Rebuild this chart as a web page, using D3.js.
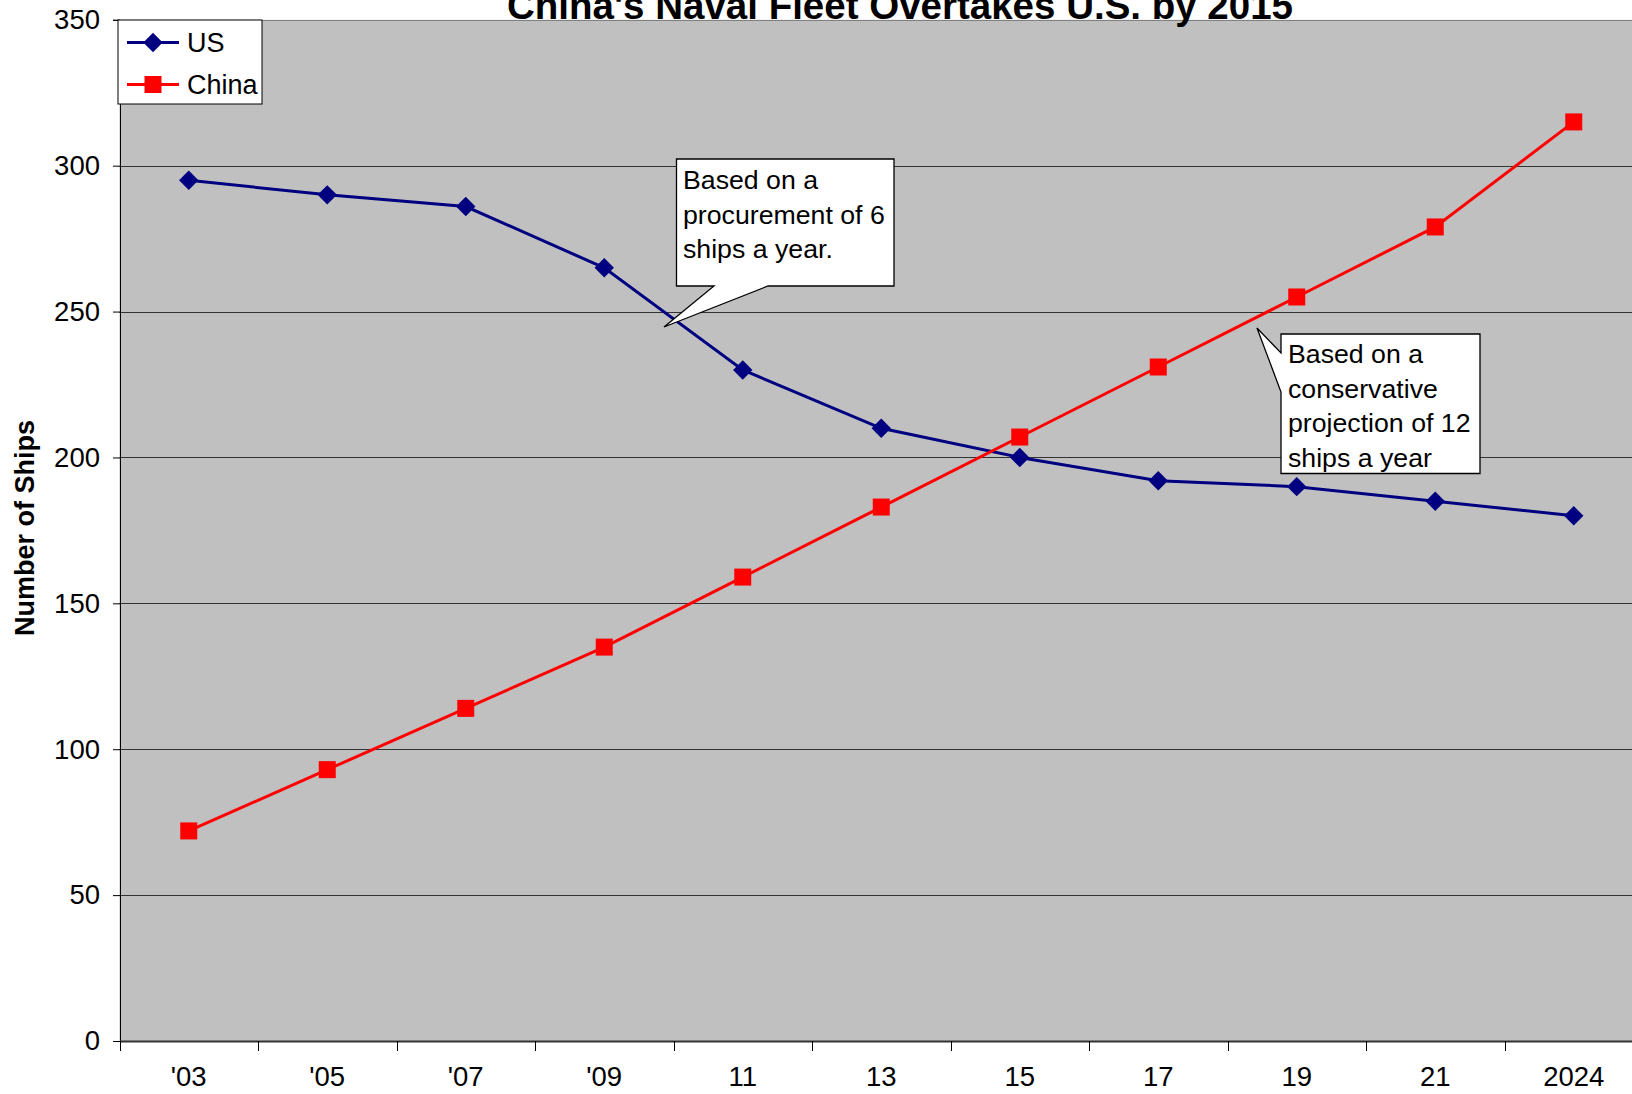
<!DOCTYPE html>
<html><head><meta charset="utf-8">
<script src="https://cdn.jsdelivr.net/npm/d3@7"></script>
<style>
html,body{margin:0;padding:0;background:#fff;overflow:hidden}
text{font-family:"Liberation Sans",Arial,sans-serif}
</style></head>
<body>
<svg id="c" width="1632" height="1094"></svg>
<script>
const categories = ["'03","'05","'07","'09","11","13","15","17","19","21","2024"];
const usValues = [295,290,286,265,230,210,200,192,190,185,180];
const chinaValues = [72,93,114,135,159,183,207,231,255,279,315];
const yTicks = [0,50,100,150,200,250,300,350];
const title = "China's Naval Fleet Overtakes U.S. by 2015";
const yTitle = "Number of Ships";
const callout1 = ["Based on a","procurement of 6","ships a year."];
const callout2 = ["Based on a","conservative","projection of 12","ships a year"];

const svg = d3.select("#c");
const L = 119.5, T = 19.8, B = 1041, R = L + 11*138.5;
const x = d3.scaleBand().domain(categories).range([L, R]);
const y = d3.scaleLinear().domain([0,350]).range([B, T]);

svg.append("rect").attr("x",L).attr("y",T).attr("width",R-L).attr("height",B-T).attr("fill","#c0c0c0");
svg.append("g").selectAll("line").data(yTicks.filter(d=>d>0)).join("line")
  .attr("x1",L).attr("x2",R).attr("y1",d=>Math.round(y(d))+0.5).attr("y2",d=>Math.round(y(d))+0.5)
  .attr("stroke",d=>d===350?"#808080":"#333").attr("stroke-width",1);

const yAxis = d3.axisLeft(y).tickValues(yTicks).tickSize(7).tickPadding(13);
const gy = svg.append("g").attr("transform",`translate(${L+0.5},0)`).call(yAxis);
gy.select(".domain").attr("stroke","#000").attr("stroke-width",1);
gy.selectAll(".tick line").attr("stroke","#000");
gy.selectAll("text").attr("font-size",27.5).attr("fill","#000").style("font-family","'Liberation Sans',Arial,sans-serif");

const xAxis = d3.axisBottom(x).tickSize(0).tickPadding(25);
const gx = svg.append("g").attr("transform",`translate(0,${B})`).call(xAxis);
gx.select(".domain").attr("stroke","#333").attr("stroke-width",2);
gx.selectAll("text").attr("font-size",27.5).attr("fill","#000").style("font-family","'Liberation Sans',Arial,sans-serif");
svg.append("g").selectAll("line").data(categories).join("line")
  .attr("x1",d=>Math.round(x(d))+0.5).attr("x2",d=>Math.round(x(d))+0.5)
  .attr("y1",B).attr("y2",B+10).attr("stroke","#000").attr("stroke-width",1);

const cx = d => x(d) + x.bandwidth()/2;
const line = d3.line().x(d=>cx(d[0])).y(d=>y(d[1]));
const usData = categories.map((c,i)=>[c,usValues[i]]);
const cnData = categories.map((c,i)=>[c,chinaValues[i]]);

function callout(box, ptr, lines, tx, ty0, dy){
  const g = svg.append("g");
  const [x0,y0,x1,y1] = box;
  let pts;
  if (ptr.side === "bottom") {
    pts = [[x0,y0],[x1,y0],[x1,y1],[ptr.a2,y1],[ptr.tx,ptr.ty],[ptr.a1,y1],[x0,y1]];
  } else {
    pts = [[x0,y0],[x1,y0],[x1,y1],[x0,y1],[x0,ptr.a2],[ptr.tx,ptr.ty],[x0,ptr.a1]];
  }
  g.append("path").attr("d","M"+pts.map(p=>p.join(",")).join("L")+"Z")
    .attr("fill","#fff").attr("stroke","#000").attr("stroke-width",1.3);
  g.selectAll("text").data(lines).join("text").attr("x",tx).attr("y",(d,i)=>ty0+i*dy)
    .attr("font-size",26.7).attr("fill","#000").text(d=>d);
}

svg.append("path").datum(usData).attr("d",line).attr("fill","none").attr("stroke","#000080").attr("stroke-width",3);
svg.append("path").datum(cnData).attr("d",line).attr("fill","none").attr("stroke","#ff0000").attr("stroke-width",3);

callout([676.5,159,894,286],{side:"bottom",a1:714,a2:768,tx:664,ty:327},callout1,683,189,34.5);
callout([1281,334,1480,473.5],{side:"left",a1:353,a2:392,tx:1257,ty:328},callout2,1288,363,34.5);

const diamond = d3.symbol().type(d3.symbolDiamond2).size(240);
svg.append("g").selectAll("path").data(usData).join("path")
  .attr("transform",d=>`translate(${cx(d[0])},${y(d[1])})`).attr("d",diamond).attr("fill","#000080");
svg.append("g").selectAll("rect").data(cnData).join("rect")
  .attr("x",d=>cx(d[0])-8.5).attr("y",d=>y(d[1])-8.5).attr("width",17).attr("height",17).attr("fill","#ff0000");

const lg = svg.append("g");
lg.append("rect").attr("x",118).attr("y",20).attr("width",144).attr("height",84).attr("fill","#fff").attr("stroke","#000").attr("stroke-width",1);
const legendItems = [{name:"US",color:"#000080",shape:"diamond",yy:42.5},{name:"China",color:"#ff0000",shape:"square",yy:84.5}];
legendItems.forEach(it=>{
  lg.append("line").attr("x1",127).attr("x2",179).attr("y1",it.yy).attr("y2",it.yy).attr("stroke",it.color).attr("stroke-width",3);
  if(it.shape==="diamond") lg.append("path").attr("transform",`translate(153,${it.yy})`).attr("d",diamond).attr("fill",it.color);
  else lg.append("rect").attr("x",144.5).attr("y",it.yy-8.5).attr("width",17).attr("height",17).attr("fill",it.color);
  lg.append("text").attr("x",187).attr("y",it.yy).attr("dy","0.35em").attr("font-size",27).attr("fill","#000").text(it.name);
});

svg.append("text").attr("x",900).attr("y",19).attr("text-anchor","middle").attr("font-size",38.5).attr("font-weight","bold").attr("fill","#000").text(title);
svg.append("text").attr("transform","translate(34,528) rotate(-90)").attr("text-anchor","middle")
  .attr("font-size",27).attr("font-weight","bold").attr("fill","#000").text(yTitle);
</script>
</body></html>
